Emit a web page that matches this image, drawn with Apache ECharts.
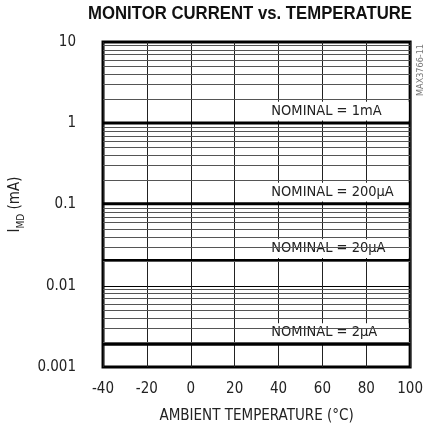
<!DOCTYPE html>
<html>
<head>
<meta charset="utf-8">
<script src="https://cdn.jsdelivr.net/npm/echarts@6/dist/echarts.min.js"></script>
<style>html,body{margin:0;padding:0;background:#fff;}#c{width:426px;height:429px;}</style>
</head>
<body>
<div id="c"></div>
<script>
// ---- data ----
const temps = [-40, -20, 0, 20, 40, 60, 80, 100];
const nominal1mA   = [1.01, 1.01, 1.01, 1.01, 1.01, 1.01, 1.01, 1.01];
const nominal200uA = [0.102, 0.102, 0.102, 0.102, 0.102, 0.102, 0.102, 0.102];
const nominal20uA  = [0.0205, 0.0205, 0.0205, 0.0205, 0.0205, 0.0205, 0.0205, 0.0205];
const nominal2uA   = [0.0019, 0.0019, 0.0019, 0.0019, 0.0019, 0.0019, 0.0019, 0.0019];
const seriesNames = ['NOMINAL = 1mA', 'NOMINAL = 200\u00B5A', 'NOMINAL = 20\u00B5A', 'NOMINAL = 2\u00B5A'];
const yTickLabels = ['0.001', '0.01', '0.1', '1', '10'];
const xTickLabels = ['-40', '-20', '0', '20', '40', '60', '80', '100'];
const gridMantissas = [2, 3, 4, 5, 6, 7, 8, 9];
const gridDecades = [0.001, 0.01, 0.1, 1];

const FONT = '"DejaVu Sans Condensed", "Liberation Sans Narrow", sans-serif';
const allSeries = [nominal1mA, nominal200uA, nominal20uA, nominal2uA];

const minorVals = [];
gridDecades.forEach(d => gridMantissas.forEach(m => minorVals.push(+(d * m).toPrecision(3))));

const chart = echarts.init(document.getElementById('c'), null, {renderer: 'canvas'});

const series = [];
// minor log grid lines
series.push({
  type: 'line', name: 'grid', data: [], z: 1, silent: true,
  markLine: {
    silent: true, symbol: ['none', 'none'], animation: false, precision: 10,
    label: {show: false},
    lineStyle: {color: '#555', width: 1, type: 'solid'},
    data: minorVals.map(v => ({yAxis: v}))
  }
});
// white label boxes with text
series.push({
  type: 'line', name: 'boxes', data: [], z: 2, silent: true,
  markArea: {
    silent: true, animation: false,
    itemStyle: {color: '#fff', borderWidth: 0},
    label: {show: true, position: 'insideLeft', distance: 6, color: '#222', fontFamily: FONT, fontSize: 14.5},
    data: allSeries.map((arr, i) => {
      const v = arr[arr.length - 1];
      return [
        {name: seriesNames[i], coord: [34, v * 1.82]},
        {coord: [99.3, v * 1.07]}
      ];
    })
  }
});
allSeries.forEach((arr, i) => {
  series.push({
    type: 'line', name: seriesNames[i], z: 3,
    data: temps.map((t, k) => [t, arr[k]]),
    showSymbol: false, symbol: 'none',
    lineStyle: {color: '#000', width: 3},
    animation: false
  });
});

chart.setOption({
  animation: false,
  backgroundColor: '#fff',
  grid: {left: 88, top: 42, right: 13, bottom: 62, show: true, borderColor: '#000', borderWidth: 3, backgroundColor: 'transparent'},
  xAxis: {
    type: 'value', min: -40, max: 100, interval: 20,
    name: 'AMBIENT TEMPERATURE (\u00B0C)', nameLocation: 'middle', nameGap: 42,
    nameTextStyle: {fontFamily: FONT, fontSize: 15, color: '#222'},
    axisLine: {show: false}, axisTick: {show: false},
    axisLabel: {margin: 15, fontFamily: FONT, fontSize: 15, color: '#222',
      formatter: v => xTickLabels[temps.indexOf(v)] ?? ''},
    splitLine: {show: true, lineStyle: {color: '#222', width: 1}}
  },
  yAxis: {
    type: 'log', logBase: 10, min: 0.001, max: 10,
    name: '{a|I}{b|MD}{a| (mA)}', nameLocation: 'middle', nameGap: 66, nameRotate: 90,
    nameTextStyle: {
      fontFamily: FONT, color: '#222',
      rich: {
        a: {fontFamily: FONT, fontSize: 15, lineHeight: 22, color: '#222', verticalAlign: 'middle'},
        b: {fontFamily: FONT, fontSize: 10, lineHeight: 12, color: '#222', verticalAlign: 'bottom'}
      }
    },
    axisLine: {show: false}, axisTick: {show: false},
    axisLabel: {margin: 27, fontFamily: FONT, fontSize: 15, color: '#222',
      formatter: v => {
        const idx = Math.round(Math.log10(v)) + 3;
        return yTickLabels[idx] ?? '';
      }},
    splitLine: {show: true, lineStyle: {color: '#000', width: 1}}
  },
  graphic: [
    {
      type: 'text', x: 250, y: 5, scaleX: 0.93, scaleY: 1,
      style: {text: 'MONITOR CURRENT vs. TEMPERATURE', font: 'bold 18px "Liberation Sans", Arial, sans-serif',
              fill: '#111', textAlign: 'center', textVerticalAlign: 'top'}
    },
    {
      type: 'text', x: 425, y: 44, rotation: Math.PI / 2,
      style: {text: 'MAX3766-11', font: '9px ' + FONT, fill: '#777', textAlign: 'right', textVerticalAlign: 'bottom'}
    }
  ],
  series: series
});
</script>
</body>
</html>
